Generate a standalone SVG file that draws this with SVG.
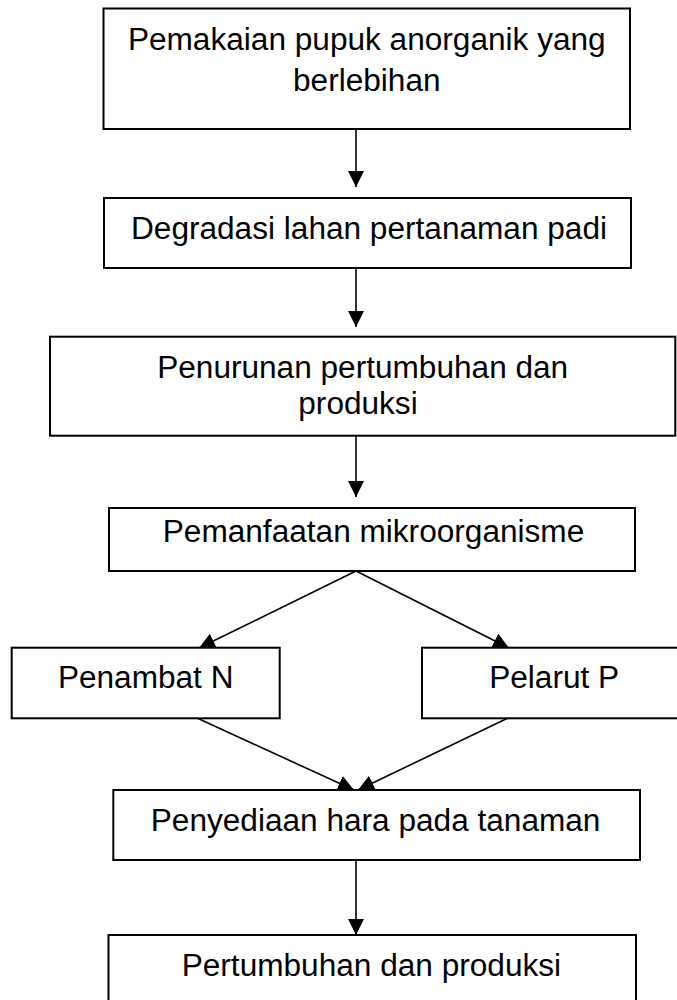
<svg xmlns="http://www.w3.org/2000/svg" width="677" height="1000" viewBox="0 0 677 1000">
<defs>
<style>
.box{fill:#fff;stroke:#000;stroke-width:2}
.lbl{font-family:"Liberation Sans",Arial,sans-serif;font-size:31px;fill:#000;text-anchor:middle}
.con{stroke:#000;stroke-width:1.6;fill:none}
</style>
<marker id="ah" markerUnits="userSpaceOnUse" markerWidth="16" markerHeight="16" viewBox="0 0 15 15" refX="15" refY="7.5" orient="auto">
<path d="M0,0 L15,7.5 L0,15 z" fill="#000"/>
</marker>
</defs>
<rect width="677" height="1000" fill="#fff"/>
<g id="connectors">
<line class="con" x1="356" y1="129" x2="356" y2="187" marker-end="url(#ah)"/>
<line class="con" x1="356" y1="268" x2="356" y2="327" marker-end="url(#ah)"/>
<line class="con" x1="356" y1="436" x2="356" y2="497" marker-end="url(#ah)"/>
<line class="con" x1="356" y1="571" x2="199" y2="648" marker-end="url(#ah)"/>
<line class="con" x1="356" y1="571" x2="509" y2="648" marker-end="url(#ah)"/>
<line class="con" x1="197" y1="718" x2="354" y2="790" marker-end="url(#ah)"/>
<line class="con" x1="508" y1="718" x2="358" y2="790" marker-end="url(#ah)"/>
<line class="con" x1="356" y1="860" x2="356" y2="935" marker-end="url(#ah)"/>
</g>
<g id="n1">
<rect class="box" x="103.5" y="8.5" width="526.5" height="120.5"/>
<text class="lbl" x="366.8" y="49.5" textLength="477.8" lengthAdjust="spacingAndGlyphs">Pemakaian pupuk anorganik yang</text>
<text class="lbl" x="366.8" y="90.5" textLength="147.5" lengthAdjust="spacingAndGlyphs">berlebihan</text>
</g>
<g id="n2">
<rect class="box" x="104" y="198" width="527" height="70"/>
<text class="lbl" x="369" y="238.5" textLength="476" lengthAdjust="spacingAndGlyphs">Degradasi lahan pertanaman padi</text>
</g>
<g id="n3">
<rect class="box" x="50" y="336.7" width="625.3" height="99"/>
<text class="lbl" x="362.7" y="377.5" textLength="411" lengthAdjust="spacingAndGlyphs">Penurunan pertumbuhan dan</text>
<text class="lbl" x="358" y="413.5" textLength="119.4" lengthAdjust="spacingAndGlyphs">produksi</text>
</g>
<g id="n4">
<rect class="box" x="109" y="508" width="526" height="63"/>
<text class="lbl" x="373.5" y="542" textLength="421.5" lengthAdjust="spacingAndGlyphs">Pemanfaatan mikroorganisme</text>
</g>
<g id="n5">
<rect class="box" x="11.7" y="647.7" width="268" height="70.6"/>
<text class="lbl" x="145.7" y="688" textLength="175.6" lengthAdjust="spacingAndGlyphs">Penambat N</text>
</g>
<g id="n6">
<rect class="box" x="422" y="647.7" width="264" height="70.6"/>
<text class="lbl" x="554.2" y="688" textLength="130" lengthAdjust="spacingAndGlyphs">Pelarut P</text>
</g>
<g id="n7">
<rect class="box" x="113.3" y="790" width="526.7" height="70"/>
<text class="lbl" x="375.6" y="831" textLength="449.7" lengthAdjust="spacingAndGlyphs">Penyediaan hara pada tanaman</text>
</g>
<g id="n8">
<rect class="box" x="108.5" y="935" width="527.5" height="75"/>
<text class="lbl" x="371.4" y="976" textLength="379.4" lengthAdjust="spacingAndGlyphs">Pertumbuhan dan produksi</text>
</g>
</svg>
